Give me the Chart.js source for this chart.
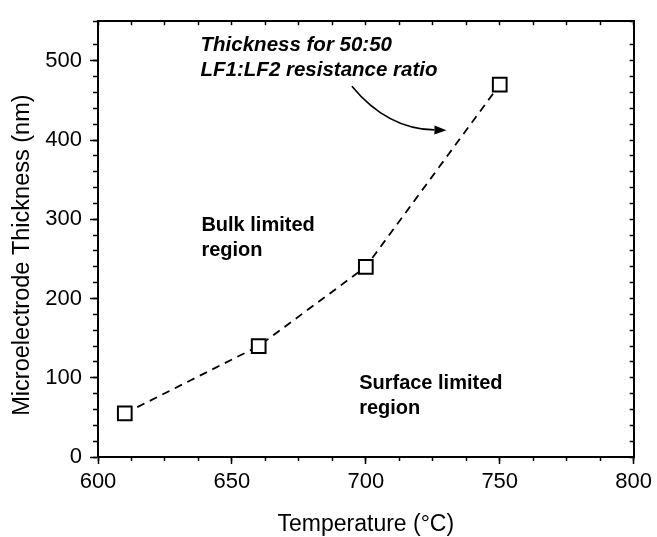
<!DOCTYPE html>
<html>
<head>
<meta charset="utf-8">
<script src="https://cdn.jsdelivr.net/npm/chart.js@4.4.1/dist/chart.umd.min.js"></script>
<style>
  html, body { margin: 0; padding: 0; background: #fff; }
  #wrap { width: 657px; height: 537px; }
</style>
</head>
<body>
<div id="wrap"><canvas id="chart" width="657" height="537"></canvas></div>
<script>
// datos
const temperatures = [610, 660, 700, 750];
const thickness = [55, 140, 240, 470];
const xTickValues = [600, 650, 700, 750, 800];
const yTickValues = [0, 100, 200, 300, 400, 500];
const xTitle = 'Temperature (°C)';
const yTitle = 'Microelectrode Thickness (nm)';
const noteLines = ['Thickness for 50:50', 'LF1:LF2 resistance ratio'];
const bulkLines = ['Bulk limited', 'region'];
const surfaceLines = ['Surface limited', 'region'];

const FAMILY = '"Liberation Sans", Arial, Helvetica, sans-serif';
const BLACK = '#000';

// ejes secundarios: solo marcas menores, sin etiquetas
function minorAxis(position, min, max, step, len, weight) {
  const horizontal = position === 'top' || position === 'bottom';
  return {
    type: 'linear',
    position: position,
    min: min,
    max: max,
    weight: weight,
    ticks: { display: false, stepSize: step, autoSkip: false },
    grid: { drawOnChartArea: false, tickLength: len, tickWidth: 1.5, tickColor: BLACK },
    border: { color: BLACK, width: 2 },
    afterFit: s => { if (horizontal) s.height = 0; else s.width = 0; }
  };
}

// textos, flecha y títulos de los ejes
const notesPlugin = {
  id: 'notes',
  afterDatasetsDraw(chart) {
    const { ctx, chartArea, scales: { x, y } } = chart;
    const px = v => x.getPixelForValue(v);
    const py = v => y.getPixelForValue(v);
    ctx.save();
    ctx.fillStyle = BLACK;
    ctx.strokeStyle = BLACK;
    ctx.textBaseline = 'middle';
    ctx.textAlign = 'left';

    ctx.font = 'italic bold 20.5px ' + FAMILY;
    ctx.fillText(noteLines[0], px(638.3), py(519));
    ctx.fillText(noteLines[1], px(638.3), py(487.5));

    ctx.font = 'bold 20px ' + FAMILY;
    ctx.fillText(bulkLines[0], px(638.6), py(292));
    ctx.fillText(bulkLines[1], px(638.6), py(261));
    ctx.fillText(surfaceLines[0], px(697.5), py(92.5));
    ctx.fillText(surfaceLines[1], px(697.5), py(61));

    // flecha curva hacia la línea
    const sx = px(694.8), sy = py(468);
    const cx = px(708), cy = py(414);
    const ex = px(730.1), ey = py(412.5);
    const ang = Math.atan2(ey - cy, ex - cx);
    const headLen = 12, headW = 4.5;
    const bx = ex - headLen * Math.cos(ang), by = ey - headLen * Math.sin(ang);
    ctx.lineWidth = 1.6;
    ctx.beginPath();
    ctx.moveTo(sx, sy);
    ctx.quadraticCurveTo(cx, cy, bx, by);
    ctx.stroke();
    ctx.beginPath();
    ctx.moveTo(ex, ey);
    ctx.lineTo(bx + headW * Math.sin(ang), by - headW * Math.cos(ang));
    ctx.lineTo(bx - headW * Math.sin(ang), by + headW * Math.cos(ang));
    ctx.closePath();
    ctx.fill();

    // títulos
    ctx.textAlign = 'center';
    ctx.font = '23px ' + FAMILY;
    ctx.fillText(xTitle, (chartArea.left + chartArea.right) / 2, 525);
    ctx.font = '23.5px ' + FAMILY;
    ctx.translate(23, (chartArea.top + chartArea.bottom) / 2 + 16);
    ctx.rotate(-Math.PI / 2);
    ctx.fillText(yTitle, 0, 0);
    ctx.restore();
  }
};

const ctx = document.getElementById('chart').getContext('2d');
new Chart(ctx, {
  type: 'line',
  data: {
    datasets: [{
      data: temperatures.map((t, i) => ({ x: t, y: thickness[i] })),
      borderColor: BLACK,
      borderWidth: 1.8,
      borderDash: [8, 6],
      fill: false,
      tension: 0,
      pointStyle: 'rect',
      pointRadius: 9.7,
      pointBorderWidth: 2,
      pointBorderColor: BLACK,
      pointBackgroundColor: '#fff'
    }]
  },
  options: {
    responsive: false,
    animation: false,
    devicePixelRatio: 1,
    layout: { padding: { top: 17, right: 21, left: 0, bottom: 0 } },
    plugins: { legend: { display: false }, tooltip: { enabled: false } },
    scales: {
      x: {
        type: 'linear',
        position: 'bottom',
        min: 600,
        max: 800,
        weight: 1,
        afterBuildTicks: s => { s.ticks = xTickValues.map(v => ({ value: v })); },
        ticks: { font: { family: FAMILY, size: 22 }, color: BLACK, padding: 5, autoSkip: false, maxRotation: 0 },
        grid: { drawOnChartArea: false, tickLength: 7, tickWidth: 1.5, tickColor: BLACK },
        border: { color: BLACK, width: 2 },
        afterFit: s => { s.height = 80; }
      },
      xMinor: minorAxis('bottom', 600, 800, 12.5, 4, 0),
      xTop: minorAxis('top', 600, 800, 12.5, -4, 0),
      y: {
        type: 'linear',
        position: 'left',
        min: 0,
        max: 550,
        weight: 1,
        afterBuildTicks: s => { s.ticks = yTickValues.map(v => ({ value: v })); },
        ticks: { font: { family: FAMILY, size: 22 }, color: BLACK, padding: 8, autoSkip: false },
        grid: { drawOnChartArea: false, tickLength: 8, tickWidth: 1.5, tickColor: BLACK },
        border: { color: BLACK, width: 2 },
        afterFit: s => { s.width = 98; }
      },
      yMinor: minorAxis('left', 0, 550, 20, 5, 0),
      yRight: minorAxis('right', 0, 550, 20, -4, 0)
    }
  },
  plugins: [notesPlugin]
});
</script>
</body>
</html>
